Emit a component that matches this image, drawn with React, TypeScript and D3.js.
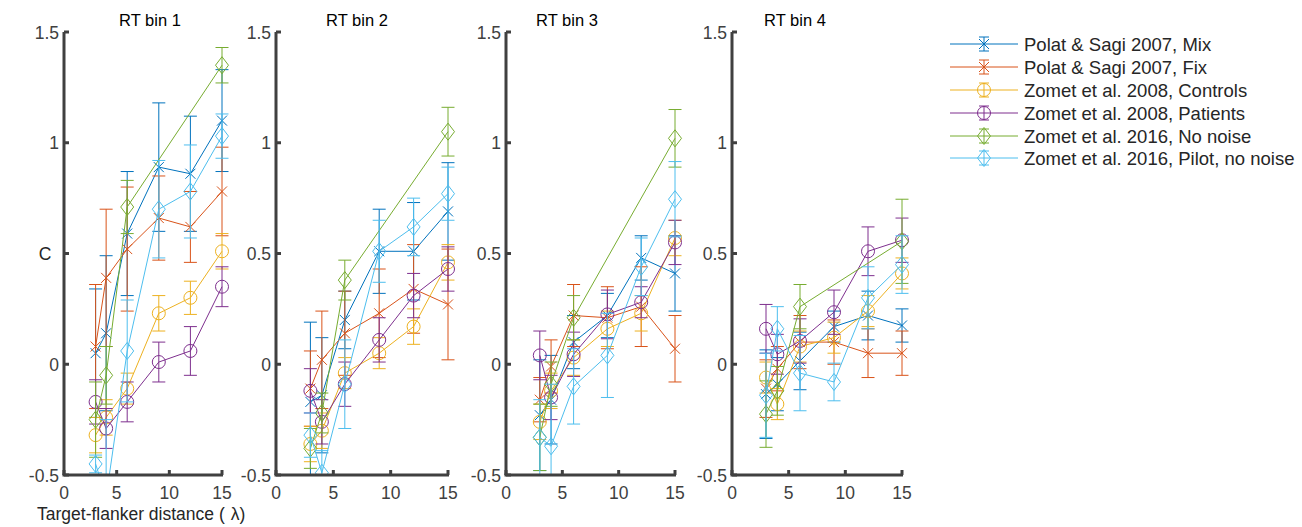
import React from "react";
import * as d3 from "d3";

// ---------- data ----------
const distances = [3, 4, 6, 9, 12, 15];
const distancesNoNoise = [3, 4, 6, 15];
const binTitles = ["RT bin 1", "RT bin 2", "RT bin 3", "RT bin 4"];
const yTicks = [-0.5, 0, 0.5, 1, 1.5];
const xTicks = [0, 5, 10, 15];

const seriesNames = [
  "Polat & Sagi 2007, Mix",
  "Polat & Sagi 2007, Fix",
  "Zomet et al. 2008, Controls",
  "Zomet et al. 2008, Patients",
  "Zomet et al. 2016, No noise",
  "Zomet et al. 2016, Pilot, no noise",
];
const seriesColors = ["#0072BD", "#D95319", "#EDB120", "#7E2F8E", "#77AC30", "#4DBEEE"];
const seriesMarkers = ["x", "x", "o", "o", "d", "d"];

// per RT bin (4 rows)
const mixMeans = [
  [0.05, 0.14, 0.59, 0.89, 0.86, 1.1],
  [-0.17, -0.14, 0.2, 0.51, 0.51, 0.69],
  [-0.23, -0.16, 0.1, 0.22, 0.48, 0.41],
  [-0.135, -0.09, 0.015, 0.17, 0.22, 0.175],
];
const mixErrors = [
  [0.29, 0.35, 0.28, 0.29, 0.26, 0.23],
  [0.36, 0.26, 0.13, 0.19, 0.22, 0.22],
  [0.25, 0.2, 0.12, 0.1, 0.1, 0.17],
  [0.2, 0.12, 0.13, 0.07, 0.11, 0.075],
];
const fixMeans = [
  [0.08, 0.39, 0.52, 0.66, 0.62, 0.78],
  [-0.11, 0.02, 0.14, 0.23, 0.34, 0.27],
  [-0.16, -0.01, 0.22, 0.21, 0.26, 0.07],
  [-0.11, -0.02, 0.1, 0.1, 0.05, 0.05],
];
const fixErrors = [
  [0.28, 0.31, 0.28, 0.19, 0.16, 0.2],
  [0.17, 0.22, 0.19, 0.2, 0.2, 0.25],
  [0.1, 0.12, 0.14, 0.14, 0.18, 0.15],
  [0.13, 0.1, 0.12, 0.1, 0.11, 0.1],
];
const controlsMeans = [
  [-0.32, -0.24, -0.11, 0.23, 0.3, 0.51],
  [-0.36, -0.3, -0.04, 0.05, 0.17, 0.46],
  [-0.26, -0.12, 0.03, 0.16, 0.23, 0.57],
  [-0.06, -0.18, 0.08, 0.12, 0.24, 0.41],
];
const controlsErrors = [
  [0.08, 0.08, 0.07, 0.08, 0.075, 0.08],
  [0.08, 0.08, 0.07, 0.07, 0.08, 0.08],
  [0.08, 0.08, 0.08, 0.08, 0.08, 0.08],
  [0.07, 0.07, 0.07, 0.07, 0.07, 0.07],
];
const patientsMeans = [
  [-0.17, -0.29, -0.17, 0.01, 0.06, 0.35],
  [-0.12, -0.26, -0.09, 0.11, 0.31, 0.43],
  [0.04, -0.15, 0.045, 0.225, 0.28, 0.55],
  [0.16, 0.045, 0.105, 0.235, 0.51, 0.56],
];
const patientsErrors = [
  [0.1, 0.09, 0.09, 0.09, 0.11, 0.09],
  [0.1, 0.1, 0.1, 0.1, 0.1, 0.1],
  [0.11, 0.1, 0.1, 0.11, 0.07, 0.1],
  [0.11, 0.09, 0.1, 0.1, 0.11, 0.1],
];
const noNoiseMeans = [
  [-0.25, -0.05, 0.71, 1.35],
  [-0.38, -0.22, 0.38, 1.05],
  [-0.33, -0.09, 0.21, 1.02],
  [-0.225, -0.12, 0.26, 0.555],
];
const noNoiseErrors = [
  [0.17, 0.13, 0.12, 0.08],
  [0.09, 0.09, 0.09, 0.11],
  [0.15, 0.1, 0.1, 0.13],
  [0.15, 0.11, 0.1, 0.19],
];
const pilotMeans = [
  [-0.45, -0.6, 0.06, 0.7, 0.78, 1.03],
  [-0.32, -0.49, -0.09, 0.51, 0.62, 0.77],
  [-0.33, -0.37, -0.1, 0.04, 0.44, 0.745],
  [-0.14, 0.16, -0.04, -0.08, 0.3, 0.45],
];
const pilotErrors = [
  [0.04, 0.35, 0.23, 0.22, 0.21, 0.1],
  [0.1, 0.1, 0.2, 0.14, 0.13, 0.12],
  [0.17, 0.28, 0.17, 0.19, 0.13, 0.17],
  [0.19, 0.1, 0.17, 0.085, 0.14, 0.13],
];

const seriesMeans = [mixMeans, fixMeans, controlsMeans, patientsMeans, noNoiseMeans, pilotMeans];
const seriesErrors = [mixErrors, fixErrors, controlsErrors, patientsErrors, noNoiseErrors, pilotErrors];
const seriesX = [distances, distances, distances, distances, distancesNoNoise, distances];

// ---------- layout ----------
const W = 1302;
const H = 527;
const panelX = [
  [64, 222],
  [276, 448],
  [506, 675],
  [732, 902],
];
const titleX = [150, 357, 567, 795];
const plotTop = 32;
const plotBottom = 475;
const axisColor = "#404040";
const font = "'Liberation Sans', Arial, Helvetica, sans-serif";
const tickFont = 17.5;

function Marker({ type, x, y, color }: { type: string; x: number; y: number; color: string }) {
  if (type === "o") return <circle cx={x} cy={y} r={6.5} fill="none" stroke={color} strokeWidth={1} />;
  if (type === "d") {
    const p = `M${x},${y - 8.5}L${x + 6.5},${y}L${x},${y + 8.5}L${x - 6.5},${y}Z`;
    return <path d={p} fill="none" stroke={color} strokeWidth={1} />;
  }
  const s = 5;
  return (
    <path
      d={`M${x - s},${y - s}L${x + s},${y + s}M${x - s},${y + s}L${x + s},${y - s}`}
      stroke={color}
      strokeWidth={1}
      fill="none"
    />
  );
}

function Panel({ bin }: { bin: number }) {
  const [x0, x1] = panelX[bin];
  const xs = d3.scaleLinear().domain([0, 15]).range([x0, x1]);
  const ys = d3.scaleLinear().domain([-0.5, 1.5]).range([plotBottom, plotTop]);
  const clipId = `clip-${bin}`;
  const capW = 6.5;
  return (
    <g>
      <defs>
        <clipPath id={clipId}>
          <rect x={x0 - 20} y={plotTop - 20} width={x1 - x0 + 40} height={plotBottom - plotTop + 20} />
        </clipPath>
      </defs>
      <text x={titleX[bin]} y={26} textAnchor="middle" fontSize={16.5} fill="#000" fontFamily={font}>
        {binTitles[bin]}
      </text>
      <g clipPath={`url(#${clipId})`}>
        {seriesMeans.map((means, si) => {
          const vals = means[bin];
          const errs = seriesErrors[si][bin];
          const xv = seriesX[si];
          const color = seriesColors[si];
          const pts = vals.map((v, i) => [xs(xv[i]), ys(v)] as [number, number]);
          const line = d3.line()(pts) || "";
          return (
            <g key={si}>
              <path d={line} fill="none" stroke={color} strokeWidth={1} />
              {vals.map((v, i) => {
                const cx = xs(xv[i]);
                const yt = ys(v + errs[i]);
                const yb = ys(v - errs[i]);
                return (
                  <g key={i}>
                    <path
                      d={`M${cx},${yt}L${cx},${yb}M${cx - capW},${yt}L${cx + capW},${yt}M${cx - capW},${yb}L${cx + capW},${yb}`}
                      stroke={color}
                      strokeWidth={1}
                      fill="none"
                    />
                    <Marker type={seriesMarkers[si]} x={cx} y={ys(v)} color={color} />
                  </g>
                );
              })}
            </g>
          );
        })}
      </g>
      {/* axes */}
      <line x1={x0} y1={plotTop} x2={x0} y2={plotBottom} stroke={axisColor} strokeWidth={3} />
      <line x1={x0 - 1.5} y1={plotBottom} x2={x1 + 1} y2={plotBottom} stroke={axisColor} strokeWidth={3} />
      {yTicks.map((t) => (
        <g key={t}>
          <line x1={x0} y1={ys(t)} x2={x0 + 5} y2={ys(t)} stroke={axisColor} strokeWidth={3} />
          {bin === 0 && t === 0.5 ? null : (
            <text
              x={x0 - 5}
              y={ys(t) + 6.5}
              textAnchor="end"
              fontSize={tickFont}
              fill={axisColor}
              fontFamily={font}
            >
              {String(t)}
            </text>
          )}
        </g>
      ))}
      {xTicks.map((t) => (
        <g key={t}>
          <line x1={xs(t)} y1={plotBottom} x2={xs(t)} y2={plotBottom - 5} stroke={axisColor} strokeWidth={3} />
          <text
            x={xs(t)}
            y={plotBottom + 24}
            textAnchor="middle"
            fontSize={tickFont}
            fill={axisColor}
            fontFamily={font}
          >
            {String(t)}
          </text>
        </g>
      ))}
    </g>
  );
}

function Legend() {
  const rowY = [44, 67, 90, 113, 136, 158];
  return (
    <g>
      {seriesNames.map((name, i) => {
        const y = rowY[i];
        const c = seriesColors[i];
        return (
          <g key={i}>
            <line x1={950} y1={y} x2={1018} y2={y} stroke={c} strokeWidth={1} />
            <path
              d={`M984,${y - 7}L984,${y + 7}M979,${y - 7}L989,${y - 7}M979,${y + 7}L989,${y + 7}`}
              stroke={c}
              strokeWidth={1}
              fill="none"
            />
            <Marker type={seriesMarkers[i]} x={984} y={y} color={c} />
            <text x={1024} y={y + 6.5} fontSize={18.5} fill="#262626" fontFamily={font}>
              {name}
            </text>
          </g>
        );
      })}
    </g>
  );
}

export default function App() {
  return (
    <svg
      width={W}
      height={H}
      style={{ position: "absolute", left: 0, top: 0, display: "block", background: "#fff" }}
    >
      {binTitles.map((_, b) => (
        <Panel key={b} bin={b} />
      ))}
      <text x={45} y={260} textAnchor="middle" fontSize={17.5} fill="#262626" fontFamily={font}>
        C
      </text>
      <text x={37} y={520} fontSize={17.5} fill="#262626" fontFamily={font}>
        Target-flanker distance (<tspan dx={6}>λ</tspan>)
      </text>
      <Legend />
    </svg>
  );
}
